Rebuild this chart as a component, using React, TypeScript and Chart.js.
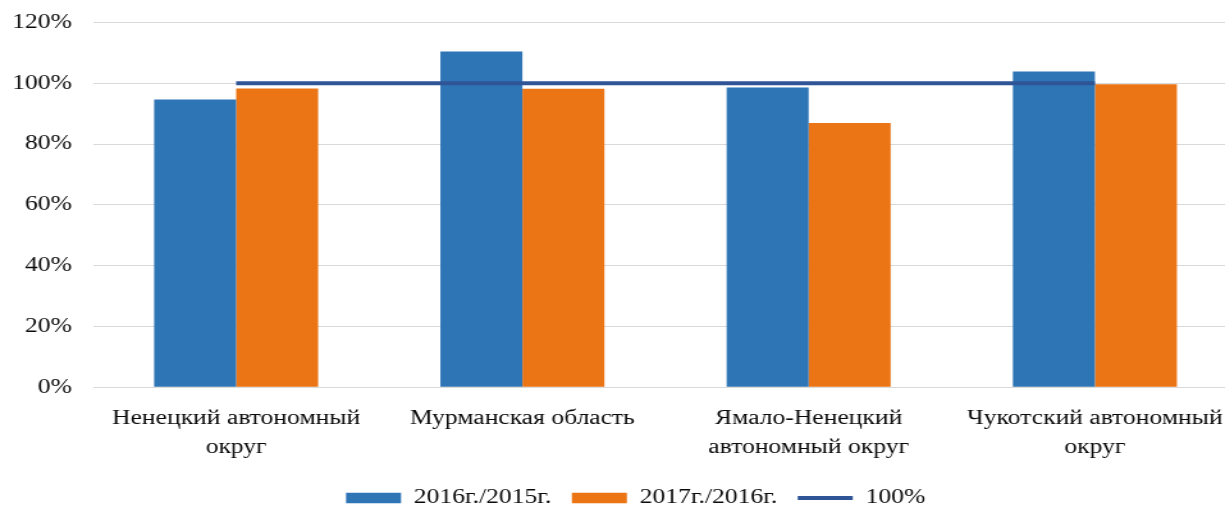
import React, { useEffect, useRef } from "react";
import { Chart, registerables } from "chart.js";

Chart.register(...registerables);

// ---- data ----
const categories: (string | string[])[] = [
  ["Ненецкий автономный", "округ"],
  "Мурманская область",
  ["Ямало-Ненецкий", "автономный округ"],
  ["Чукотский автономный", "округ"],
];
const seriesNames = ["2016г./2015г.", "2017г./2016г.", "100%"];
const ratio2016 = [94.7, 110.5, 98.6, 103.9];
const ratio2017 = [98.3, 98.2, 86.9, 99.7];
const reference100 = [100, 100, 100, 100];
const yMin = 0;
const yMax = 120;
const yStep = 20;

// ---- layout / style ----
const SX = 1.28; // horizontal stretch of the reference picture
const W = 968;
const H = 518;
const FONT = "'Liberation Serif', 'Times New Roman', serif";
const TEXT = "#0a0a0a";

const legendShift = {
  id: "legendShift",
  afterLayout(chart: any) {
    const l = chart.legend;
    if (l) {
      l.left += 13;
      l.right += 13;
    }
  },
};

export default function App() {
  const ref = useRef<HTMLCanvasElement | null>(null);

  useEffect(() => {
    if (!ref.current) return;
    const chart = new Chart(ref.current, {
      type: "bar",
      data: {
        labels: categories,
        datasets: [
          {
            type: "bar",
            label: seriesNames[0],
            data: ratio2016,
            backgroundColor: "#2E75B6",
            borderWidth: 0,
            order: 1,
            barPercentage: 1,
            categoryPercentage: 0.573,
          },
          {
            type: "bar",
            label: seriesNames[1],
            data: ratio2017,
            backgroundColor: "#EB7515",
            borderWidth: 0,
            order: 1,
            barPercentage: 1,
            categoryPercentage: 0.573,
          },
          {
            type: "line",
            label: seriesNames[2],
            data: reference100,
            borderColor: "#2F5597",
            backgroundColor: "#2F5597",
            borderWidth: 4,
            pointRadius: 0,
            fill: false,
            order: 0,
          } as any,
        ],
      },
      options: {
        responsive: false,
        maintainAspectRatio: false,
        animation: false,
        layout: { padding: { left: 0, right: 0.8, top: 22.5, bottom: 0 } },
        plugins: {
          tooltip: { enabled: false },
          legend: {
            position: "bottom",
            labels: {
              font: { family: FONT, size: 20 },
              color: TEXT,
              usePointStyle: true,
              pointStyleWidth: 43,
              boxHeight: 10.5,
              padding: 16,
              generateLabels: (c: any) => {
                const items = (Chart.defaults.plugins.legend.labels as any).generateLabels(c);
                return items
                  .slice()
                  .sort((a: any, b: any) => a.datasetIndex - b.datasetIndex)
                  .map((it: any) => ({
                    ...it,
                    pointStyle: it.datasetIndex === 2 ? "line" : "rect",
                    lineWidth: it.datasetIndex === 2 ? 4 : 0,
                  }));
              },
            },
          },
        },
        scales: {
          x: {
            grid: { display: false, drawTicks: false },
            border: { display: false },
            ticks: {
              font: { family: FONT, size: 20, lineHeight: 1.45 },
              color: TEXT,
              padding: 16.5,
              maxRotation: 0,
              autoSkip: false,
            },
            afterFit: (s: any) => {
              s.height = 84.7;
              s.paddingLeft = 0;
              s.paddingRight = 0;
            },
          },
          y: {
            min: yMin,
            max: yMax,
            grid: { color: "#D9D9D9", lineWidth: 1, drawTicks: false },
            border: { display: false },
            ticks: {
              stepSize: yStep,
              font: { family: FONT, size: 20 },
              color: TEXT,
              padding: 16.5,
              callback: (v: any) => `${v}%`,
            },
            afterFit: (s: any) => {
              s.width = 72.66;
              s.paddingTop = 0;
              s.paddingBottom = 0;
            },
          },
        },
      },
      plugins: [legendShift],
    });
    return () => chart.destroy();
  }, []);

  return (
    <div
      style={{
        position: "fixed",
        left: 0,
        top: 0,
        width: 1225,
        height: 508,
        overflow: "hidden",
        background: "#fff",
      }}
    >
      <div style={{ width: W, height: H, transform: `scaleX(${SX})`, transformOrigin: "0 0" }}>
        <canvas ref={ref} width={W} height={H} style={{ display: "block", width: W, height: H }} />
      </div>
    </div>
  );
}
